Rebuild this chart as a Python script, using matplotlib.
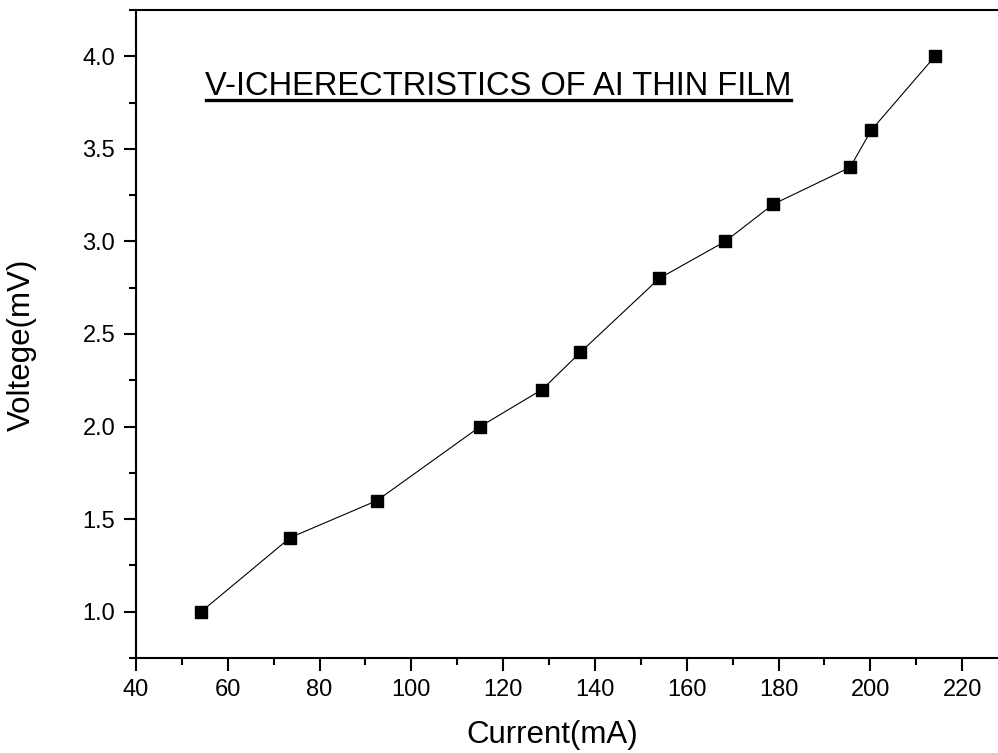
import matplotlib
matplotlib.use("Agg")
import matplotlib.pyplot as plt
from matplotlib.ticker import MultipleLocator, FormatStrFormatter
from matplotlib.lines import Line2D

plt.rcParams['font.family'] = ['Liberation Sans', 'DejaVu Sans']

# I-V data
current = [54.2, 73.6, 92.5, 115.0, 128.5, 136.8, 154.0, 168.4, 178.8, 195.6, 200.2, 214.1]
voltage = [1.0, 1.4, 1.6, 2.0, 2.2, 2.4, 2.8, 3.0, 3.2, 3.4, 3.6, 4.0]
title = "V-ICHERECTRISTICS OF AI THIN FILM"

fig = plt.figure(figsize=(9.98, 7.53), dpi=100)
# axes runs past the right edge of the figure, like the original
ax = fig.add_axes([0.1363, 0.1262, 0.8737, 0.8606])

ax.plot(current, voltage, color='black', lw=0.8, marker='s', ms=8.5,
        mfc='black', mec='black', clip_on=False)

ax.set_xlim(40, 230)
ax.set_ylim(0.75, 4.25)
ax.xaxis.set_major_locator(MultipleLocator(20))
ax.xaxis.set_minor_locator(MultipleLocator(10))
ax.yaxis.set_major_locator(MultipleLocator(0.5))
ax.yaxis.set_minor_locator(MultipleLocator(0.25))
ax.yaxis.set_major_formatter(FormatStrFormatter('%.1f'))

for s in ax.spines.values():
    s.set_linewidth(1.5)
ax.spines['right'].set_visible(False)

ax.tick_params(which='both', direction='out', width=1.5, labelsize=17)
ax.tick_params(which='major', length=9, pad=6)
ax.tick_params(which='minor', length=5)

ax.set_xlabel("Current(mA)", fontsize=22.5)
ax.xaxis.label.set_va('center')
ax.xaxis.set_label_coords(0.477, -0.119)
ax.set_ylabel("Voltege(mV)", fontsize=22.5)
ax.yaxis.label.set_va('center')
ax.yaxis.set_label_coords(-0.1307, 0.483)

ty = 1.0 + (611 - 95) / 185.0
t = ax.text(55.0, ty, title, fontsize=23.5, va='baseline', ha='left')

# underline the title
fig.canvas.draw()
bb = t.get_window_extent(fig.canvas.get_renderer())
base = ax.transData.transform((55.0, ty))[1]
fig.add_artist(Line2D([bb.x0 + 1, bb.x1], [base - 5, base - 5], transform=None,
                      color='black', lw=2.4))

fig.savefig("out.png", dpi=100)
